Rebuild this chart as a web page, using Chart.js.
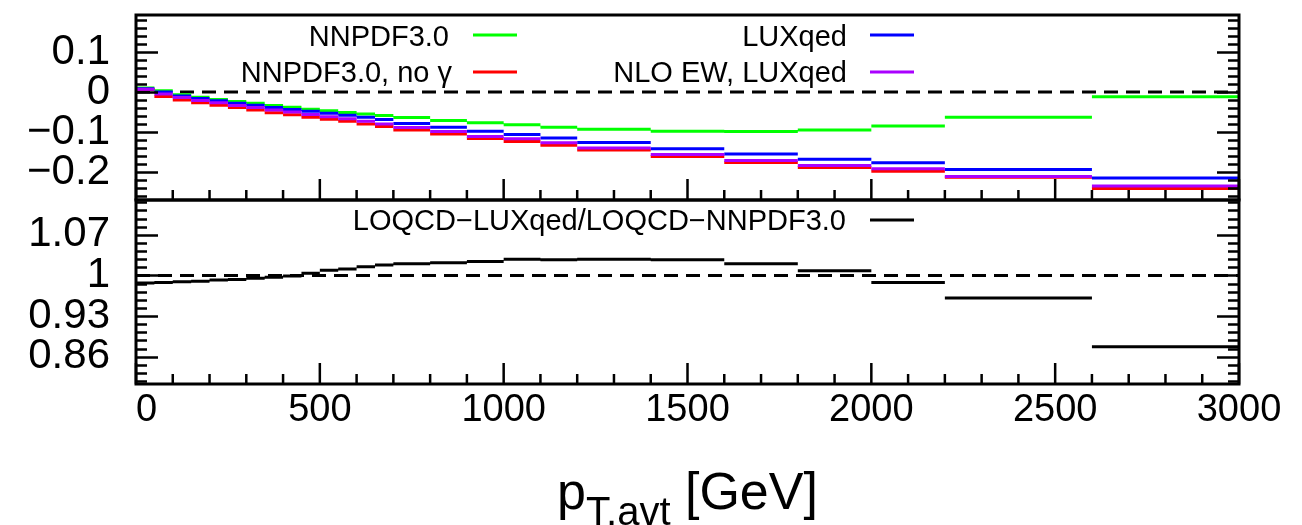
<!DOCTYPE html>
<html>
<head>
<meta charset="utf-8">
<script src="https://cdn.jsdelivr.net/npm/chart.js@4.4.1/dist/chart.umd.min.js"></script>
<style>
  html, body { margin: 0; padding: 0; background: #fff; }
  #wrap { position: relative; width: 1302px; height: 525px; overflow: hidden; background: #fff; }
  #wrap canvas { position: absolute; left: 0; }
  #cTop { top: 0; }
  #cBottom { top: 185px; }
  #xtitle {
    position: absolute; left: 136px; width: 1103px; top: 465px;
    text-align: center; white-space: nowrap;
    font-family: "Liberation Sans", Arial, Helvetica, sans-serif;
    font-size: 52px; line-height: 52px; color: #000;
  }
  #xtitle sub { font-size: 40px; line-height: 0; vertical-align: -16px; }
</style>
</head>
<body>
<div id="wrap">
  <canvas id="cTop" width="1302" height="215"></canvas>
  <canvas id="cBottom" width="1302" height="340"></canvas>
  <div id="xtitle">p<sub>T,avt</sub> [GeV]</div>
</div>
<script>
// pT,avt bin edges [GeV]
const binEdges = [0, 50, 100, 150, 200, 250, 300, 350, 400, 450, 500, 550, 600, 650, 700,
                  800, 900, 1000, 1100, 1200, 1400, 1600, 1800, 2000, 2200, 2600, 3000];

// relative corrections per bin (upper panel)
const nnpdf = [0.010, 0.003, -0.007, -0.013, -0.019, -0.024, -0.028, -0.034, -0.038, -0.043,
               -0.047, -0.051, -0.055, -0.059, -0.064, -0.071, -0.077, -0.082, -0.088, -0.093,
               -0.098, -0.099, -0.095, -0.085, -0.063, -0.012];
const nnpdfNoGamma = [0.006, -0.011, -0.020, -0.027, -0.033, -0.039, -0.045, -0.052, -0.057, -0.063,
                      -0.068, -0.073, -0.080, -0.086, -0.095, -0.105, -0.116, -0.124, -0.133, -0.145,
                      -0.161, -0.176, -0.189, -0.198, -0.213, -0.241];
const luxqed = [0.008, 0.000, -0.010, -0.016, -0.022, -0.028, -0.033, -0.039, -0.044, -0.048,
                -0.053, -0.058, -0.063, -0.069, -0.079, -0.088, -0.098, -0.106, -0.115, -0.126,
                -0.142, -0.155, -0.168, -0.177, -0.194, -0.215];
const nloEwLuxqed = [0.007, -0.005, -0.014, -0.021, -0.027, -0.034, -0.039, -0.045, -0.050, -0.056,
                     -0.062, -0.067, -0.073, -0.080, -0.089, -0.099, -0.111, -0.117, -0.127, -0.140,
                     -0.156, -0.171, -0.184, -0.192, -0.211, -0.235];

// LO QCD ratio per bin (lower panel)
const loRatio = [0.987, 0.988, 0.989, 0.990, 0.992, 0.993, 0.995, 0.997, 0.999, 1.004,
                 1.009, 1.011, 1.015, 1.018, 1.020, 1.022, 1.024, 1.028, 1.027, 1.028,
                 1.027, 1.020, 1.008, 0.988, 0.961, 0.877];

// axis tick labels
const xTickValues = [0, 500, 1000, 1500, 2000, 2500, 3000];
const topTickValues = [-0.2, -0.1, 0, 0.1];
const bottomTickValues = [0.86, 0.93, 1, 1.07];

const FONT = '"Liberation Sans", Arial, Helvetica, sans-serif';

// one horizontal segment per bin, separated by gaps (no vertical risers)
function histSegments(values) {
  const pts = [];
  values.forEach((v, i) => {
    pts.push({ x: binEdges[i], y: v }, { x: binEdges[i + 1], y: v }, { x: binEdges[i + 1], y: null });
  });
  return pts;
}

function refLine(level) {
  return [{ x: binEdges[0], y: level }, { x: binEdges[binEdges.length - 1], y: level }];
}

function fmtTick(v) {
  const s = String(Math.round(v * 1000) / 1000);
  return s.replace('-', '\u2212');
}

// the origin label sits just inside the frame corner
function fmtXTick(v) {
  return v === 0 ? '\u00a0\u00a00' : String(v);
}

// frame plus inward ticks on the bottom edge and on both vertical edges
const framePlugin = {
  id: 'frameTicks',
  afterDatasetsDraw(chart, args, opts) {
    const { ctx, chartArea: { left, right, top, bottom }, scales: { x, y } } = chart;
    ctx.save();
    ctx.strokeStyle = '#000';
    ctx.lineWidth = 2.5;
    ctx.beginPath();
    for (let k = 0; k * opts.xMinor <= x.max + 1e-9; k++) {
      const v = k * opts.xMinor;
      const px = x.getPixelForValue(v);
      const len = (k % opts.xPerMajor === 0) ? 21 : 10;
      ctx.moveTo(px, bottom);
      ctx.lineTo(px, bottom - len);
    }
    const kMin = Math.ceil((y.min - opts.yAnchor) / opts.yMinor - 1e-9);
    const kMax = Math.floor((y.max - opts.yAnchor) / opts.yMinor + 1e-9);
    for (let k = kMin; k <= kMax; k++) {
      const v = opts.yAnchor + k * opts.yMinor;
      const py = Math.round(y.getPixelForValue(v)) + 0.5;
      const major = ((k % opts.yPerMajor) + opts.yPerMajor) % opts.yPerMajor === 0;
      const len = major ? 22 : 11;
      ctx.moveTo(left, py); ctx.lineTo(left + len, py);
      ctx.moveTo(right, py); ctx.lineTo(right - len, py);
    }
    ctx.stroke();
    ctx.lineWidth = 3;
    ctx.strokeRect(left, top, right - left, bottom - top);
    ctx.restore();
  }
};

// legend: right-aligned text followed by a short line sample
const rootLegend = {
  id: 'rootLegend',
  afterDraw(chart, args, opts) {
    const ctx = chart.ctx;
    ctx.save();
    ctx.font = '29px ' + FONT;
    ctx.textAlign = 'right';
    ctx.textBaseline = 'alphabetic';
    opts.entries.forEach(e => {
      const ds = chart.data.datasets[e.index];
      ctx.fillStyle = '#000';
      ctx.fillText(ds.label, e.textRight, e.baseline);
      ctx.strokeStyle = ds.borderColor;
      ctx.lineWidth = 3;
      ctx.beginPath();
      ctx.moveTo(e.x0, e.y);
      ctx.lineTo(e.x1, e.y);
      ctx.stroke();
    });
    ctx.restore();
  }
};

function yScale(min, max, ticks) {
  return {
    type: 'linear', min: min, max: max,
    afterBuildTicks: s => { s.ticks = ticks.map(v => ({ value: v })); },
    afterFit: s => { s.width = 136; s.paddingTop = 0; s.paddingBottom = 0; },
    grid: { display: false, drawTicks: false },
    border: { display: false },
    ticks: { padding: 26, color: '#000', autoSkip: false, font: { family: FONT, size: 42 }, callback: v => fmtTick(v) }
  };
}

const common = {
  responsive: false,
  animation: false,
  events: [],
  elements: { point: { radius: 0 }, line: { borderWidth: 3, tension: 0, borderCapStyle: 'butt', fill: false } },
};

new Chart(document.getElementById('cTop'), {
  type: 'line',
  data: {
    datasets: [
      { label: 'NNPDF3.0', data: histSegments(nnpdf), borderColor: '#00ff00', order: 3 },
      { label: 'NNPDF3.0, no \u03b3', data: histSegments(nnpdfNoGamma), borderColor: '#ff0000', order: 2 },
      { label: 'LUXqed', data: histSegments(luxqed), borderColor: '#0000ff', order: 1 },
      { label: 'NLO EW, LUXqed', data: histSegments(nloEwLuxqed), borderColor: '#aa00ff', order: 0 },
      { label: 'zero', data: refLine(0), borderColor: '#000', borderDash: [14, 8], order: 5 }
    ]
  },
  options: Object.assign({}, common, {
    layout: { autoPadding: false, padding: { top: 15, right: 63, bottom: 15, left: 0 } },
    plugins: {
      legend: { display: false }, tooltip: { enabled: false },
      frameTicks: { xMinor: 100, xPerMajor: 5, yAnchor: 0, yMinor: 0.02, yPerMajor: 5 },
      rootLegend: { entries: [
        { index: 0, textRight: 449, baseline: 46, x0: 473, x1: 517, y: 35 },
        { index: 1, textRight: 452, baseline: 82, x0: 473, x1: 517, y: 72 },
        { index: 2, textRight: 847, baseline: 46, x0: 870, x1: 914, y: 35 },
        { index: 3, textRight: 847, baseline: 82, x0: 870, x1: 914, y: 72 }
      ] }
    },
    scales: {
      x: { type: 'linear', min: 0, max: 3000, display: false },
      y: yScale(-0.27, 0.1925, topTickValues)
    }
  }),
  plugins: [framePlugin, rootLegend]
});

new Chart(document.getElementById('cBottom'), {
  type: 'line',
  data: {
    datasets: [
      { label: 'LOQCD\u2212LUXqed/LOQCD\u2212NNPDF3.0', data: histSegments(loRatio), borderColor: '#000', order: 0 },
      { label: 'unity', data: refLine(1), borderColor: '#000', borderDash: [14, 8], order: 5 }
    ]
  },
  options: Object.assign({}, common, {
    layout: { autoPadding: false, padding: { top: 15, right: 63, bottom: 0, left: 0 } },
    plugins: {
      legend: { display: false }, tooltip: { enabled: false },
      frameTicks: { xMinor: 100, xPerMajor: 5, yAnchor: 1, yMinor: 0.014, yPerMajor: 5 },
      rootLegend: { entries: [
        { index: 0, textRight: 846, baseline: 45, x0: 870, x1: 914, y: 35 }
      ] }
    },
    scales: {
      x: {
        type: 'linear', min: 0, max: 3000,
        afterBuildTicks: s => { s.ticks = xTickValues.map(v => ({ value: v })); },
        afterFit: s => { s.height = 141; s.paddingLeft = 0; s.paddingRight = 0; },
        grid: { display: false, drawTicks: false },
        border: { display: false },
        ticks: { padding: 4, color: '#000', maxRotation: 0, autoSkip: false, font: { family: FONT, size: 38 }, callback: v => fmtXTick(v) }
      },
      y: yScale(0.813, 1.13, bottomTickValues)
    }
  }),
  plugins: [framePlugin, rootLegend]
});
</script>
</body>
</html>
